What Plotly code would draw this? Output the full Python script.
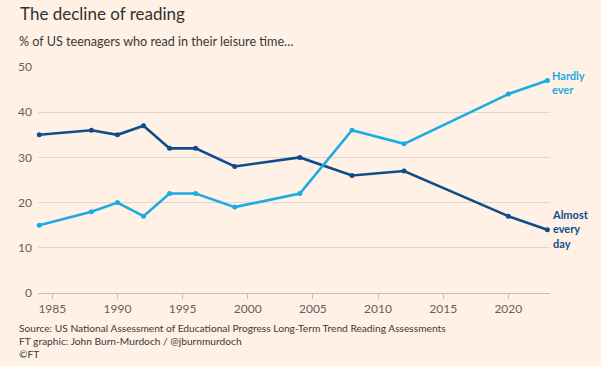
import plotly.graph_objects as go

years = [1984, 1988, 1990, 1992, 1994, 1996, 1999, 2004, 2008, 2012, 2020, 2023]
almost_every_day = [35, 36, 35, 37, 32, 32, 28, 30, 26, 27, 17, 14]
hardly_ever = [15, 18, 20, 17, 22, 22, 19, 22, 36, 33, 44, 47]
x_ticks = [1985, 1990, 1995, 2000, 2005, 2010, 2015, 2020]
y_ticks = [0, 10, 20, 30, 40, 50]

BG = "#FFF1E5"
LIGHT = "#1AACE3"
DARK = "#0F4C8A"
FONT = "Lato"
W, H = 601, 366
L, R, T, B = 38, 51, 67, 73
PW, PH = W - L - R, H - T - B


def px(x):
    return (x - L) / PW


def py(y):
    return (H - B - y) / PH


fig = go.Figure()
fig.add_trace(go.Scatter(x=years, y=almost_every_day, mode="lines+markers",
                         line=dict(color=DARK, width=2.6), marker=dict(size=5, color=DARK),
                         name="Almost every day", showlegend=False, cliponaxis=False))
fig.add_trace(go.Scatter(x=years, y=hardly_ever, mode="lines+markers",
                         line=dict(color=LIGHT, width=2.6), marker=dict(size=5, color=LIGHT),
                         name="Hardly ever", showlegend=False, cliponaxis=False))

fig.add_annotation(x=years[-1], y=hardly_ever[-1], text="<b>Hardly<br>ever</b>",
                   xref="x", yref="y", showarrow=False, xanchor="left", yanchor="middle",
                   xshift=3, yshift=-2, align="left",
                   font=dict(family=FONT, size=11, color=LIGHT))
fig.add_annotation(x=years[-1], y=almost_every_day[-1], text="<b>Almost<br>every<br>day</b>",
                   xref="x", yref="y", showarrow=False, xanchor="left", yanchor="middle",
                   xshift=3, yshift=1, align="left",
                   font=dict(family=FONT, size=11, color=DARK))

fig.add_annotation(x=px(18), y=py(14), xref="paper", yref="paper", xanchor="left", yanchor="middle",
                   text="The decline of reading", showarrow=False,
                   font=dict(family=FONT, size=17, color="#33302E"))
fig.add_annotation(x=px(17), y=py(42), xref="paper", yref="paper", xanchor="left", yanchor="middle",
                   text="% of US teenagers who read in their leisure time…", showarrow=False,
                   font=dict(family=FONT, size=12.6, color="#3d3936"))
for i, t in enumerate(["Source: US National Assessment of Educational Progress Long-Term Trend Reading Assessments",
                       "FT graphic: John Burn-Murdoch / @jburnmurdoch",
                       "©FT"]):
    fig.add_annotation(x=px(17), y=py(328 + 13 * i), xref="paper", yref="paper",
                       xanchor="left", yanchor="middle", text=t, showarrow=False,
                       font=dict(family=FONT, size=10.2, color="#3d3936"))

fig.update_layout(
    width=W, height=H,
    paper_bgcolor=BG, plot_bgcolor=BG,
    margin=dict(l=L, r=R, t=T, b=B, pad=0),
    font=dict(family=FONT, color="#66605C", size=11),
    xaxis=dict(range=[1983.9, 2023.2], tickvals=x_ticks, ticktext=[str(v) for v in x_ticks],
               showgrid=False, zeroline=False, showline=True, linecolor="#C9BFB5", linewidth=1,
               ticks="outside", ticklen=5, tickcolor="#C9BFB5",
               tickfont=dict(family=FONT, size=12, color="#66605C")),
    yaxis=dict(range=[0, 50], tickvals=y_ticks, showgrid=True, gridcolor="#E3D6CB", gridwidth=1,
               zeroline=False, showline=False, ticks="", ticklabelstandoff=5,
               tickfont=dict(family=FONT, size=12, color="#66605C")),
)

fig.write_html("out.html", config={"displayModeBar": False},
               post_script="document.body.style.margin='0';document.body.style.padding='0';")
